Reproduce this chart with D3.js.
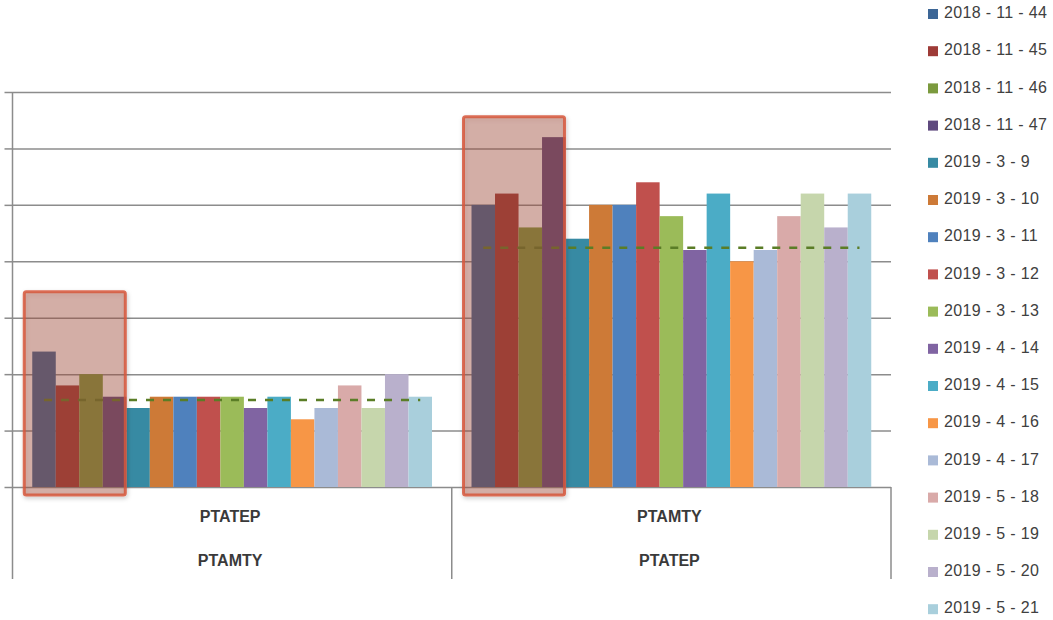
<!DOCTYPE html>
<meta charset="utf-8">
<style>
  body { margin: 0; background: #fff; }
  .grid line { stroke: #8c8c8c; stroke-width: 1.5px; }
  .grid path { display: none; }
  .ticks line { stroke: #8c8c8c; stroke-width: 1.5px; }
  .ticks path { display: none; }
  .frame { stroke: #8c8c8c; stroke-width: 1.5px; }
  .cat { font-family: "Liberation Sans", Arial, sans-serif; font-size: 16px; font-weight: bold; fill: #3a3a3a; }
  .legend text { font-family: "Liberation Sans", Arial, sans-serif; font-size: 16px; letter-spacing: 0.35px; fill: #404040; }
  .avg { fill: none; stroke: #5a7d26; stroke-width: 2.5px; stroke-dasharray: 8,9; }
  .box { fill: rgba(165,75,55,0.38); stroke: #d6573c; stroke-width: 3px; stroke-opacity: 0.85; }
</style>
<body>
<script src="https://d3js.org/d3.v7.min.js"></script>
<script>

// category labels (inner row and outer row of the axis)
var categories = ["PTATEP", "PTAMTY"];
var outerLabels = ["PTAMTY", "PTATEP"];

// series names
var seriesNames = [
  "2018 - 11 - 44", "2018 - 11 - 45", "2018 - 11 - 46", "2018 - 11 - 47",
  "2019 - 3 - 9", "2019 - 3 - 10", "2019 - 3 - 11", "2019 - 3 - 12",
  "2019 - 3 - 13", "2019 - 4 - 14", "2019 - 4 - 15", "2019 - 4 - 16",
  "2019 - 4 - 17", "2019 - 5 - 18", "2019 - 5 - 19", "2019 - 5 - 20",
  "2019 - 5 - 21"
];

// values per category, one per series
var valuesPTATEP = [12, 9, 10, 8, 7, 8, 8, 8, 8, 7, 8, 6, 7, 9, 7, 10, 8];
var valuesPTAMTY = [25, 26, 23, 31, 22, 25, 25, 27, 24, 21, 26, 20, 21, 24, 26, 23, 26];

// dashed reference line per category
var averageLine = [7.7, 21.2];

// highlighted series (first 4) and top of the highlight box per category
var highlightSeries = 4;
var highlightTop = [17.3, 32.8];

// y gridlines
var yTicks = [0, 5, 10, 15, 20, 25, 30, 35];

var colors = [
  "#3c6696", "#9e3b37", "#7b9a3e", "#5f4a7e", "#378aa3", "#cd7a37",
  "#4f81bd", "#c0504d", "#9bbb59", "#8064a2", "#4bacc6", "#f79646",
  "#aabad7", "#d9aaa9", "#c6d6ac", "#b9b0cc", "#a9cfdc"
];

var allValues = [valuesPTATEP, valuesPTAMTY];

var W = 1053, H = 620;
var plotLeft = 12.5, plotRight = 891, baseline = 487, plotTop = 92, frameBottom = 579;

var svg = d3.select("body").append("svg")
    .attr("width", W)
    .attr("height", H);

var defs = svg.append("defs");
var f = defs.append("filter").attr("id", "shadow")
    .attr("x", "-20%").attr("y", "-20%").attr("width", "140%").attr("height", "140%");
f.append("feDropShadow").attr("dx", 1).attr("dy", 2)
    .attr("stdDeviation", 2).attr("flood-color", "#000").attr("flood-opacity", 0.25);

// scales
var y = d3.scaleLinear().domain([0, 35]).range([baseline, plotTop]);
var x0 = d3.scaleBand().domain(categories).range([plotLeft, plotRight]).padding(0);
var x1 = d3.scaleBand().domain(d3.range(seriesNames.length))
    .range([0, x0.bandwidth()]).paddingInner(0).paddingOuter(0.84);

// gridlines
svg.append("g")
    .attr("class", "grid")
    .attr("transform", "translate(" + plotLeft + ",0)")
    .call(d3.axisLeft(y).tickValues(yTicks).tickSize(-(plotRight - plotLeft)).tickFormat(""));

// tick marks left of the axis
svg.append("g")
    .attr("class", "ticks")
    .attr("transform", "translate(" + plotLeft + ",0)")
    .call(d3.axisLeft(y).tickValues(yTicks).tickSize(8).tickSizeOuter(0).tickFormat(""));

// bars
var groups = svg.selectAll(".cat-group")
    .data(categories)
  .enter().append("g")
    .attr("class", "cat-group")
    .attr("transform", function(d) { return "translate(" + x0(d) + ",0)"; });

groups.selectAll("rect")
    .data(function(d, i) { return allValues[i].map(function(v, j) { return {s: j, v: v}; }); })
  .enter().append("rect")
    .attr("x", function(d) { return x1(d.s); })
    .attr("width", x1.bandwidth())
    .attr("y", function(d) { return y(d.v); })
    .attr("height", function(d) { return baseline - y(d.v); })
    .attr("fill", function(d) { return colors[d.s]; });

// dashed reference lines
groups.append("line")
    .attr("class", "avg")
    .attr("x1", x1(0) + x1.bandwidth() / 2)
    .attr("x2", x1(seriesNames.length - 1) + x1.bandwidth() / 2)
    .attr("y1", function(d, i) { return y(averageLine[i]); })
    .attr("y2", function(d, i) { return y(averageLine[i]); });

// highlight boxes
groups.append("rect")
    .attr("class", "box")
    .attr("filter", "url(#shadow)")
    .attr("rx", 2)
    .attr("x", x1(0) - 8)
    .attr("width", x1(highlightSeries - 1) + x1.bandwidth() - 1 - (x1(0) - 8))
    .attr("y", function(d, i) { return y(highlightTop[i]); })
    .attr("height", function(d, i) { return baseline + 8 - y(highlightTop[i]); });

// axis frame lines
svg.append("line").attr("class", "frame")
    .attr("x1", plotLeft).attr("x2", plotLeft).attr("y1", plotTop).attr("y2", frameBottom);
categories.forEach(function(c) {
  var xe = x0(c) + x0.bandwidth();
  svg.append("line").attr("class", "frame")
      .attr("x1", xe).attr("x2", xe).attr("y1", baseline).attr("y2", frameBottom);
});

// category labels, two rows
groups.append("text")
    .attr("class", "cat")
    .attr("x", x0.bandwidth() / 2 - 2)
    .attr("y", 518)
    .attr("text-anchor", "middle")
    .attr("dominant-baseline", "middle")
    .text(function(d) { return d; });

groups.append("text")
    .attr("class", "cat")
    .attr("x", x0.bandwidth() / 2 - 2)
    .attr("y", 562)
    .attr("text-anchor", "middle")
    .attr("dominant-baseline", "middle")
    .text(function(d, i) { return outerLabels[i]; });

// legend
var legend = svg.append("g").attr("class", "legend")
  .selectAll("g")
    .data(seriesNames)
  .enter().append("g")
    .attr("transform", function(d, i) { return "translate(928," + (14 + i * 37.2) + ")"; });

legend.append("rect")
    .attr("x", 0).attr("y", -5)
    .attr("width", 10).attr("height", 10)
    .attr("fill", function(d, i) { return colors[i]; });

legend.append("text")
    .attr("x", 16)
    .attr("y", 0)
    .attr("dominant-baseline", "middle")
    .text(function(d) { return d; });

</script>
</body>
